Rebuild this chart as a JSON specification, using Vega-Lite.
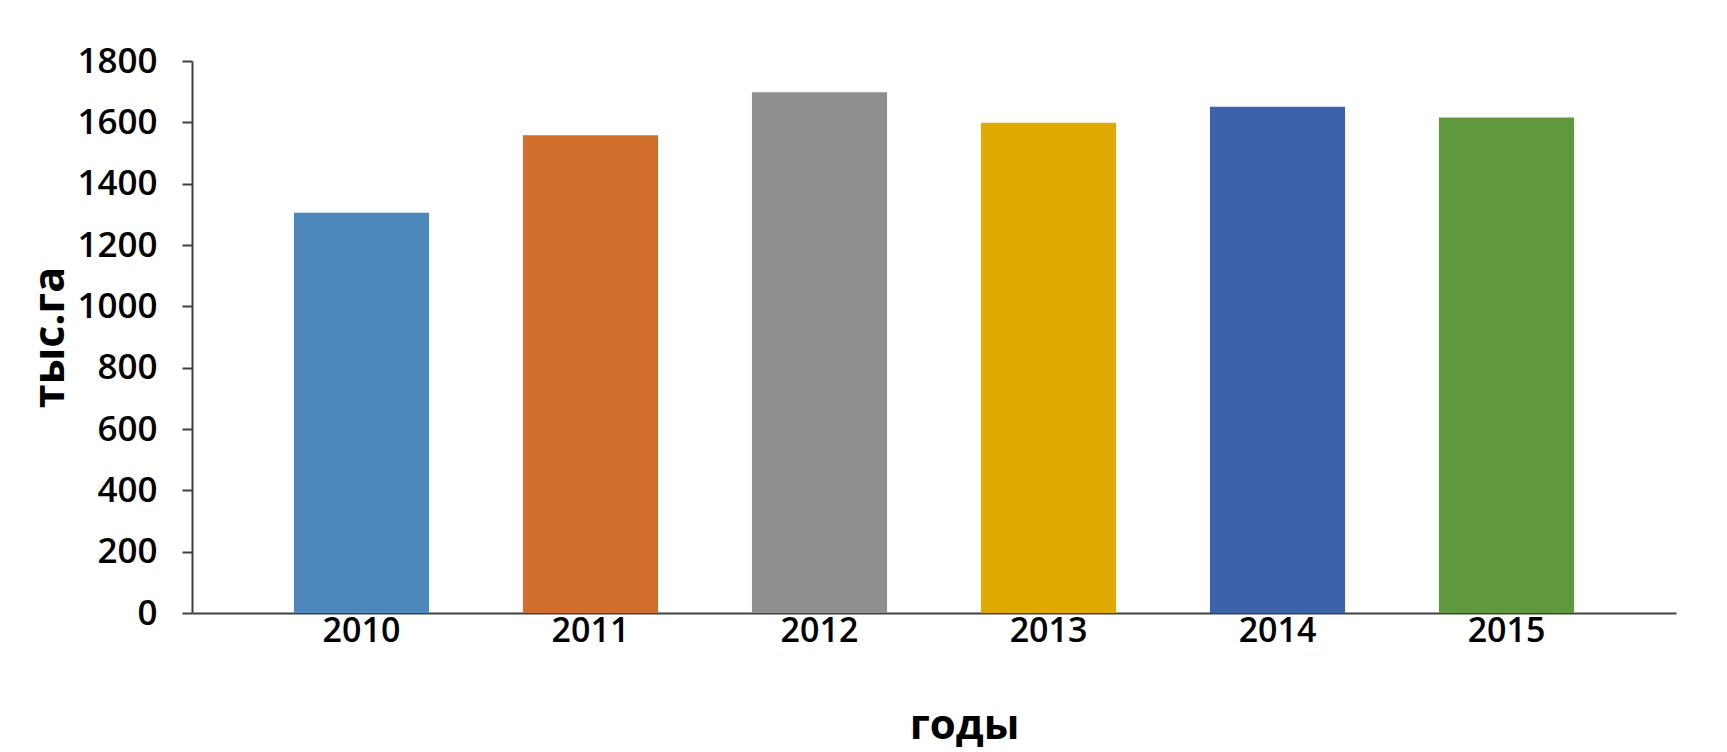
{
  "$schema": "https://vega.github.io/schema/vega-lite/v6.json",
  "autosize": "none",
  "width": 1484,
  "height": 552,
  "padding": {"left": 192, "top": 61, "right": 51, "bottom": 139},
  "background": "white",
  "config": {
    "view": {"stroke": null},
    "font": "Open Sans"
  },
  "data": {
    "values": [
      {"year": "2010", "value": 1305},
      {"year": "2011", "value": 1558},
      {"year": "2012", "value": 1698},
      {"year": "2013", "value": 1599},
      {"year": "2014", "value": 1651},
      {"year": "2015", "value": 1616}
    ]
  },
  "mark": {"type": "bar"},
  "encoding": {
    "x": {
      "field": "year",
      "type": "nominal",
      "sort": null,
      "scale": {"paddingInner": 0.41, "paddingOuter": 0.445},
      "axis": {
        "title": "годы",
        "titleFont": "Open Sans",
        "titleFontSize": 42,
        "titleFontWeight": "bold",
        "titleColor": "#000000",
        "titleX": 772,
        "titleY": 125,
        "titleAlign": "center",
        "titleBaseline": "alphabetic",
        "labelAngle": 0,
        "labelFont": "Open Sans",
        "labelFontSize": 34,
        "labelFontWeight": 600,
        "labelColor": "#000000",
        "labelPadding": 1,
        "ticks": false,
        "domainColor": "#404040",
        "domainWidth": 2
      }
    },
    "y": {
      "field": "value",
      "type": "quantitative",
      "scale": {"domain": [0, 1800], "nice": false},
      "axis": {
        "title": "тыс.га",
        "titleFont": "Open Sans",
        "titleFontSize": 43,
        "titleFontWeight": "bold",
        "titleColor": "#000000",
        "titleAngle": -90,
        "titleX": -142,
        "titleY": 276,
        "titleAlign": "center",
        "titleBaseline": "middle",
        "values": [0, 200, 400, 600, 800, 1000, 1200, 1400, 1600, 1800],
        "format": "d",
        "grid": false,
        "labelFont": "Open Sans",
        "labelFontSize": 35,
        "labelFontWeight": 600,
        "labelColor": "#000000",
        "labelPadding": 25,
        "tickSize": 10,
        "tickColor": "#404040",
        "tickWidth": 2,
        "domainColor": "#404040",
        "domainWidth": 2
      }
    },
    "color": {
      "field": "year",
      "type": "nominal",
      "sort": null,
      "legend": null,
      "scale": {
        "domain": ["2010", "2011", "2012", "2013", "2014", "2015"],
        "range": ["#4E87BC", "#D16E2B", "#8F8F8F", "#E1AA00", "#3C63AA", "#5F983E"]
      }
    }
  }
}
